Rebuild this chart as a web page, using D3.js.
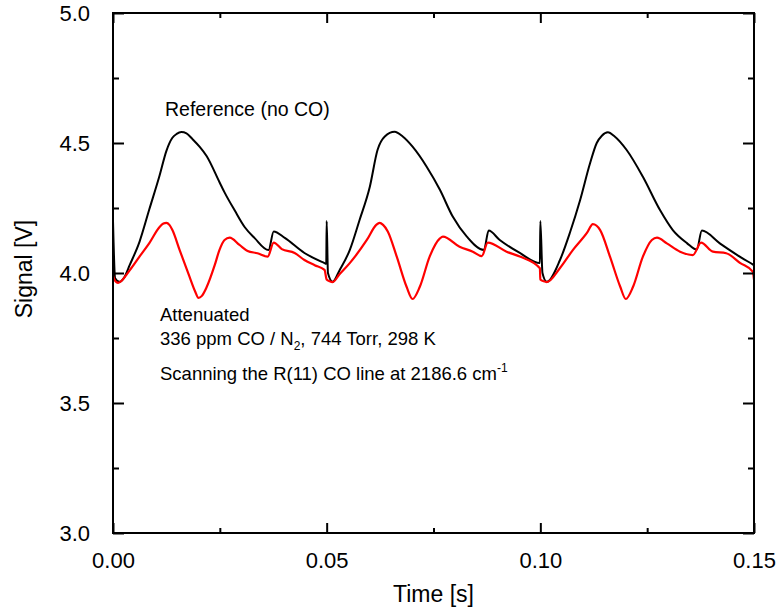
<!DOCTYPE html>
<html>
<head>
<meta charset="utf-8">
<script src="https://cdn.jsdelivr.net/npm/d3@7"></script>
<style>
  html, body { margin: 0; padding: 0; background: #fff; }
  svg text { font-family: "Liberation Sans", Arial, Helvetica, sans-serif; fill: #000; }
</style>
</head>
<body>
<svg id="chart" width="781" height="613"></svg>
<script>
// ---- Data ----
const refTime = [0.0000, 0.0005, 0.0015, 0.0027, 0.0039, 0.0062, 0.0085, 0.0109, 0.0125, 0.0139, 0.0149, 0.0160, 0.0172, 0.0186, 0.0203, 0.0219, 0.0249, 0.0261, 0.0285, 0.0308, 0.0331, 0.0364, 0.0376, 0.0402, 0.0448, 0.0495, 0.0499,
  0.0500, 0.0503, 0.0514, 0.0530, 0.0554, 0.0577, 0.0601, 0.0619, 0.0636, 0.0659, 0.0678, 0.0701, 0.0734, 0.0765, 0.0795, 0.0828, 0.0868, 0.0879, 0.0905, 0.0952, 0.0999,
  0.1000, 0.1005, 0.1015, 0.1046, 0.1069, 0.1093, 0.1116, 0.1132, 0.1144, 0.1158, 0.1174, 0.1202, 0.1240, 0.1280, 0.1310, 0.1343, 0.1366, 0.1378, 0.1420, 0.1460, 0.1497, 0.1500];
const refSignal = [4.200, 3.980, 3.966, 3.985, 4.030, 4.120, 4.245, 4.375, 4.470, 4.520, 4.535, 4.542, 4.537, 4.515, 4.485, 4.450, 4.350, 4.310, 4.240, 4.177, 4.135, 4.088, 4.160, 4.135, 4.077, 4.038, 4.035,
  4.200, 4.000, 3.966, 4.010, 4.088, 4.204, 4.332, 4.473, 4.525, 4.543, 4.525, 4.486, 4.409, 4.320, 4.217, 4.140, 4.088, 4.163, 4.127, 4.077, 4.038,
  4.200, 4.000, 3.966, 4.050, 4.154, 4.280, 4.420, 4.500, 4.528, 4.541, 4.525, 4.473, 4.370, 4.242, 4.165, 4.115, 4.090, 4.163, 4.114, 4.070, 4.033, 4.030];

const attTime = [0.0000, 0.0003, 0.0012, 0.0039, 0.0062, 0.0085, 0.0109, 0.0118, 0.0125, 0.0132, 0.0139, 0.0156, 0.0179, 0.0192, 0.0200, 0.0208, 0.0219, 0.0238, 0.0249, 0.0261, 0.0273, 0.0296, 0.0315, 0.0338, 0.0362, 0.0376, 0.0395, 0.0425, 0.0448, 0.0472, 0.0495,
  0.0500, 0.0507, 0.0514, 0.0530, 0.0554, 0.0594, 0.0616, 0.0624, 0.0632, 0.0643, 0.0664, 0.0687, 0.0701, 0.0718, 0.0741, 0.0765, 0.0772, 0.0811, 0.0842, 0.0863, 0.0877, 0.0921, 0.0952, 0.0999,
  0.1000, 0.1008, 0.1015, 0.1046, 0.1076, 0.1109, 0.1123, 0.1140, 0.1163, 0.1187, 0.1200, 0.1217, 0.1240, 0.1261, 0.1273, 0.1296, 0.1327, 0.1357, 0.1376, 0.1404, 0.1435, 0.1468, 0.1497, 0.1500];
const attSignal = [3.990, 3.975, 3.962, 4.010, 4.063, 4.115, 4.177, 4.190, 4.193, 4.185, 4.165, 4.088, 3.986, 3.930, 3.904, 3.912, 3.945, 4.030, 4.088, 4.127, 4.136, 4.108, 4.085, 4.076, 4.063, 4.117, 4.092, 4.077, 4.050, 4.030, 4.012,
  3.975, 3.968, 3.965, 3.995, 4.038, 4.127, 4.185, 4.193, 4.185, 4.160, 4.063, 3.947, 3.900, 3.947, 4.063, 4.133, 4.140, 4.101, 4.082, 4.065, 4.117, 4.082, 4.063, 4.018,
  3.975, 3.968, 3.965, 4.019, 4.088, 4.154, 4.188, 4.165, 4.063, 3.947, 3.900, 3.947, 4.063, 4.127, 4.136, 4.114, 4.082, 4.069, 4.117, 4.082, 4.076, 4.038, 4.005, 3.975];

const xTicks = [0.00, 0.05, 0.10, 0.15];
const xTickLabels = ["0.00", "0.05", "0.10", "0.15"];
const xMinorTicks = [0.025, 0.075, 0.125];
const yTicks = [3.0, 3.5, 4.0, 4.5, 5.0];
const yTickLabels = ["3.0", "3.5", "4.0", "4.5", "5.0"];
const yMinorTicks = [3.25, 3.75, 4.25, 4.75];

// ---- Layout ----
const svg = d3.select("#chart");
const pLeft = 113, pRight = 754, pTop = 13, pBottom = 533;
const x = d3.scaleLinear().domain([0, 0.15]).range([pLeft, pRight]);
const y = d3.scaleLinear().domain([3.0, 5.0]).range([pBottom, pTop]);

svg.append("defs").append("clipPath").attr("id", "clip")
  .append("rect").attr("x", pLeft).attr("y", pTop).attr("width", pRight - pLeft).attr("height", pBottom - pTop);

const line = d3.line().curve(d3.curveMonotoneX).x(d => x(d[0])).y(d => y(d[1]));
const refData = refTime.map((t, i) => [t, refSignal[i]]);
const attData = attTime.map((t, i) => [t, attSignal[i]]);

const g = svg.append("g").attr("clip-path", "url(#clip)");
g.append("path").datum(refData).attr("d", line)
  .attr("fill", "none").attr("stroke", "#000").attr("stroke-width", 2).attr("stroke-linejoin", "round");
g.append("path").datum(attData).attr("d", line)
  .attr("fill", "none").attr("stroke", "#ff0000").attr("stroke-width", 2.2).attr("stroke-linejoin", "round");

// ---- Axes (ticks inward on all four sides) ----
function styleAxis(sel) {
  sel.select(".domain").remove();
  sel.selectAll("line").attr("stroke", "#000").attr("stroke-width", 2);
  sel.selectAll("text").style("font-size", "22px").style("font-family", '"Liberation Sans", Arial, sans-serif');
}
const bx = svg.append("g").attr("transform", `translate(0,${pBottom})`)
  .call(d3.axisBottom(x).tickValues(xTicks).tickFormat((d, i) => xTickLabels[i]).tickSizeInner(-10).tickSizeOuter(0).tickPadding(19));
styleAxis(bx);
svg.append("g").attr("transform", `translate(0,${pBottom})`)
  .call(d3.axisBottom(x).tickValues(xMinorTicks).tickFormat("").tickSizeInner(-5).tickSizeOuter(0))
  .call(styleAxis);
svg.append("g").attr("transform", `translate(0,${pTop})`)
  .call(d3.axisTop(x).tickValues(xTicks).tickFormat("").tickSizeInner(-10).tickSizeOuter(0))
  .call(styleAxis);
svg.append("g").attr("transform", `translate(0,${pTop})`)
  .call(d3.axisTop(x).tickValues(xMinorTicks).tickFormat("").tickSizeInner(-5).tickSizeOuter(0))
  .call(styleAxis);
const ly = svg.append("g").attr("transform", `translate(${pLeft},0)`)
  .call(d3.axisLeft(y).tickValues(yTicks).tickFormat((d, i) => yTickLabels[i]).tickSizeInner(-11).tickSizeOuter(0).tickPadding(23));
styleAxis(ly);
svg.append("g").attr("transform", `translate(${pLeft},0)`)
  .call(d3.axisLeft(y).tickValues(yMinorTicks).tickFormat("").tickSizeInner(-6).tickSizeOuter(0))
  .call(styleAxis);
svg.append("g").attr("transform", `translate(${pRight},0)`)
  .call(d3.axisRight(y).tickValues(yTicks).tickFormat("").tickSizeInner(-11).tickSizeOuter(0))
  .call(styleAxis);
svg.append("g").attr("transform", `translate(${pRight},0)`)
  .call(d3.axisRight(y).tickValues(yMinorTicks).tickFormat("").tickSizeInner(-6).tickSizeOuter(0))
  .call(styleAxis);

svg.append("rect").attr("x", pLeft).attr("y", pTop).attr("width", pRight - pLeft).attr("height", pBottom - pTop)
  .attr("fill", "none").attr("stroke", "#000").attr("stroke-width", 2);

// ---- Axis titles ----
svg.append("text").attr("x", (pLeft + pRight) / 2).attr("y", 602).attr("text-anchor", "middle")
  .style("font-size", "23px").text("Time [s]");
svg.append("text").attr("transform", `translate(32,${(pTop + pBottom) / 2 - 4}) rotate(-90)`).attr("text-anchor", "middle")
  .style("font-size", "23px").text("Signal [V]");

// ---- Annotations ----
const ann = svg.append("g").style("font-size", "18.5px");
ann.append("text").attr("x", 165).attr("y", 116).style("font-size", "19.5px").text("Reference (no CO)");
ann.append("text").attr("x", 160).attr("y", 321).text("Attenuated");
const t2 = ann.append("text").attr("x", 160).attr("y", 345);
t2.append("tspan").text("336 ppm CO / N");
t2.append("tspan").attr("dy", 5).style("font-size", "12px").text("2");
t2.append("tspan").attr("dy", -5).text(", 744 Torr, 298 K");
const t3 = ann.append("text").attr("x", 160).attr("y", 380);
t3.append("tspan").text("Scanning the R(11) CO line at 2186.6 cm");
t3.append("tspan").attr("dy", -8).style("font-size", "12px").text("-1");
</script>
</body>
</html>
